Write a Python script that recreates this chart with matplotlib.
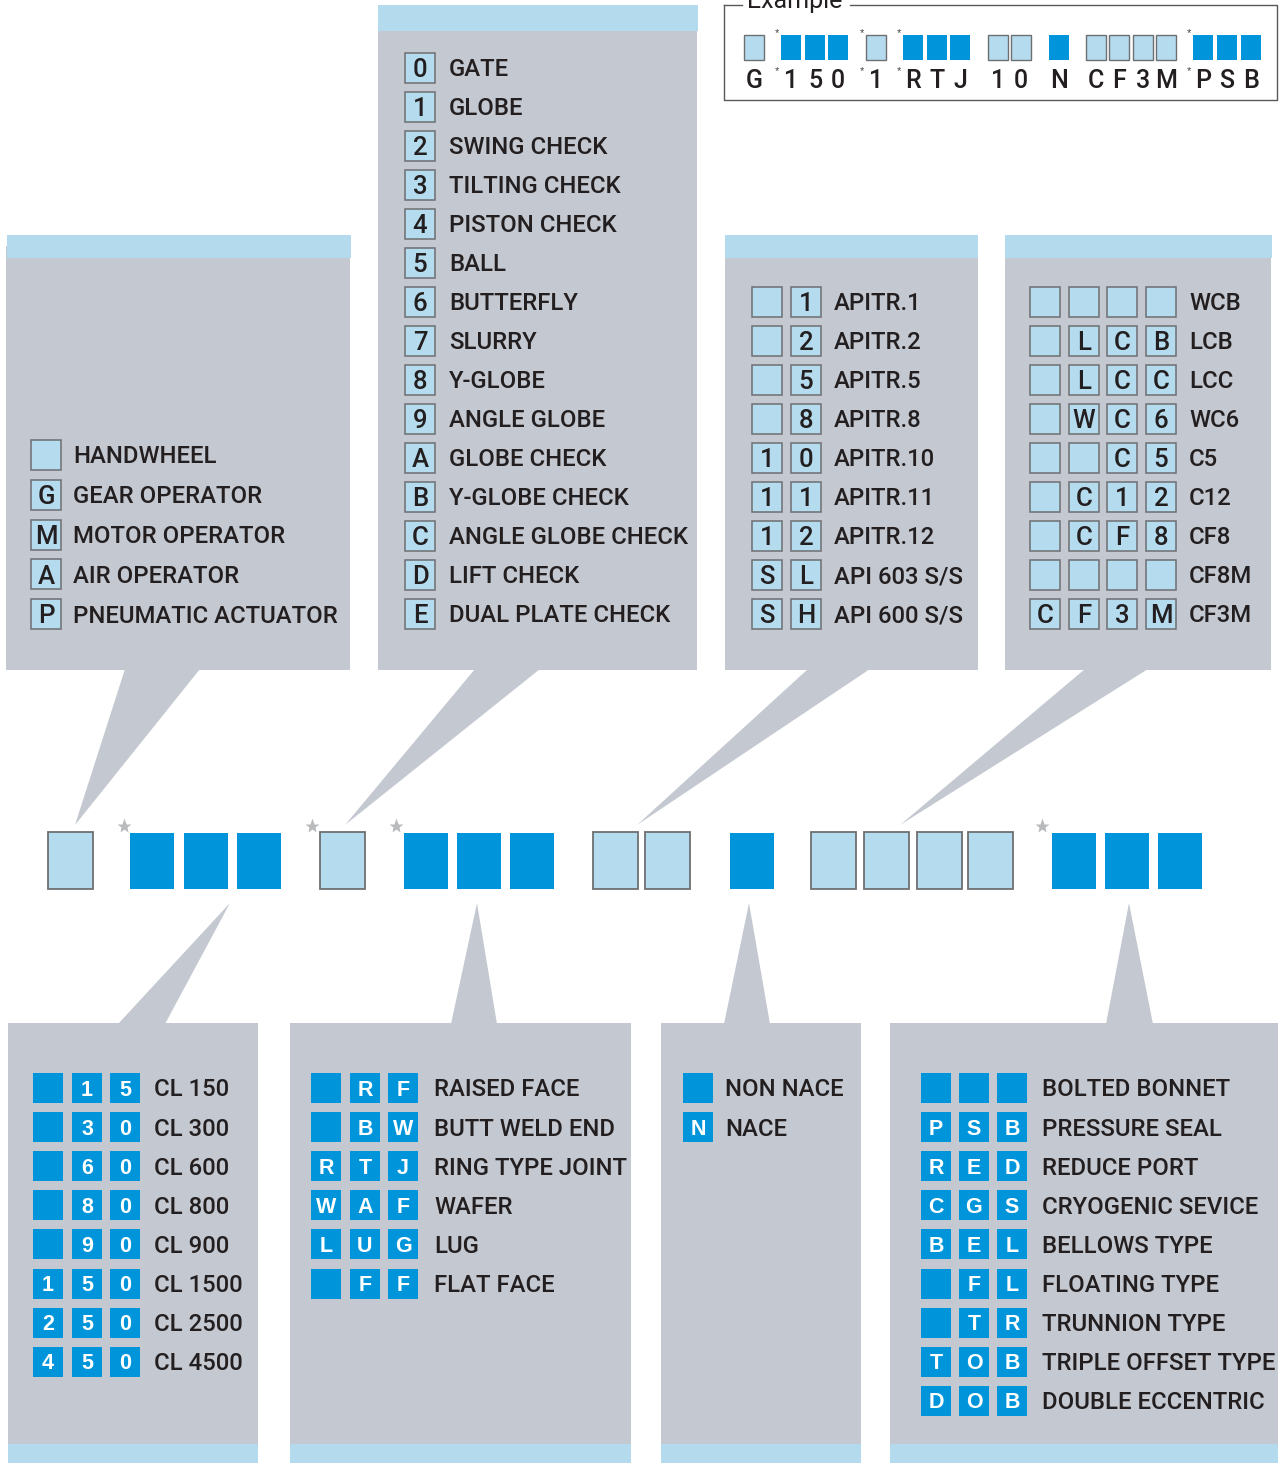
import matplotlib.pyplot as plt
from matplotlib.patches import Rectangle, Polygon

# ---- data ----
operator_codes = ["", "G", "M", "A", "P"]
operator_labels = ["HANDWHEEL", "GEAR OPERATOR", "MOTOR OPERATOR", "AIR OPERATOR", "PNEUMATIC ACTUATOR"]

body_codes = ["0", "1", "2", "3", "4", "5", "6", "7", "8", "9", "A", "B", "C", "D", "E"]
body_labels = ["GATE", "GLOBE", "SWING CHECK", "TILTING CHECK", "PISTON CHECK", "BALL", "BUTTERFLY",
               "SLURRY", "Y-GLOBE", "ANGLE GLOBE", "GLOBE CHECK", "Y-GLOBE CHECK",
               "ANGLE GLOBE CHECK", "LIFT CHECK", "DUAL PLATE CHECK"]

trim_codes = [["", "1"], ["", "2"], ["", "5"], ["", "8"], ["1", "0"], ["1", "1"], ["1", "2"],
              ["S", "L"], ["S", "H"]]
trim_labels = ["APITR.1", "APITR.2", "APITR.5", "APITR.8", "APITR.10", "APITR.11", "APITR.12",
               "API 603 S/S", "API 600 S/S"]

material_codes = [["", "", "", ""], ["", "L", "C", "B"], ["", "L", "C", "C"], ["", "W", "C", "6"],
                  ["", "", "C", "5"], ["", "C", "1", "2"], ["", "C", "F", "8"], ["", "", "", ""],
                  ["C", "F", "3", "M"]]
material_labels = ["WCB", "LCB", "LCC", "WC6", "C5", "C12", "CF8", "CF8M", "CF3M"]

class_codes = [["", "1", "5"], ["", "3", "0"], ["", "6", "0"], ["", "8", "0"], ["", "9", "0"],
               ["1", "5", "0"], ["2", "5", "0"], ["4", "5", "0"]]
class_labels = ["CL 150", "CL 300", "CL 600", "CL 800", "CL 900", "CL 1500", "CL 2500", "CL 4500"]

end_codes = [["", "R", "F"], ["", "B", "W"], ["R", "T", "J"], ["W", "A", "F"], ["L", "U", "G"],
             ["", "F", "F"]]
end_labels = ["RAISED FACE", "BUTT WELD END", "RING TYPE JOINT", "WAFER", "LUG", "FLAT FACE"]

nace_codes = [[""], ["N"]]
nace_labels = ["NON NACE", "NACE"]

bonnet_codes = [["", "", ""], ["P", "S", "B"], ["R", "E", "D"], ["C", "G", "S"], ["B", "E", "L"],
                ["", "F", "L"], ["", "T", "R"], ["T", "O", "B"], ["D", "O", "B"]]
bonnet_labels = ["BOLTED BONNET", "PRESSURE SEAL", "REDUCE PORT", "CRYOGENIC SEVICE", "BELLOWS TYPE",
                 "FLOATING TYPE", "TRUNNION TYPE", "TRIPLE OFFSET TYPE", "DOUBLE ECCENTRIC"]

example_codes = ["G", "1", "5", "0", "1", "R", "T", "J", "1", "0", "N", "C", "F", "3", "M", "P", "S", "B"]
example_title = "Example"

# ---- style ----
GRAY = "#c4c8d0"
STRIP = "#b3dbed"
LIGHT = "#b5dcee"
DARK = "#0095da"
EDGE = "#6d6f72"
INK = "#231f20"
STAR = "#b9babc"
FONT = "Roboto"

fig = plt.figure(figsize=(12.79, 14.63), dpi=100)
ax = fig.add_axes([0, 0, 1, 1])
ax.set_xlim(0, 1279)
ax.set_ylim(1463, 0)
ax.axis("off")


def txt(x, yc, s, size, color=INK, ha="left", weight="medium", family=FONT):
    # put the middle of the capitals at yc
    cap = 0.711 * size * 100 / 72
    ax.text(x, yc + cap / 2, s, fontsize=size, color=color, ha=ha, va="baseline",
            fontweight=weight, family=family)


def light_box(x, y, w, h, lw=1.1):
    ax.add_patch(Rectangle((x, y), w, h, facecolor=LIGHT, edgecolor=EDGE, lw=lw))


def dark_box(x, y, w, h):
    ax.add_patch(Rectangle((x, y), w, h, facecolor=DARK, edgecolor="none"))


def rows(codes, labels, box_x, text_x, y0, dy, dark=False):
    for i, (code, label) in enumerate(zip(codes, labels)):
        yc = y0 + i * dy
        if isinstance(code, str):
            code = [code]
        for bx, c in zip(box_x, code):
            if dark:
                dark_box(bx, yc - 15, 30, 30)
                txt(bx + 15, yc, c, 15.5, color="white", ha="center", weight="bold",
                    family="Liberation Sans")
            else:
                light_box(bx, yc - 15, 30, 30)
                txt(bx + 15, yc, c, 18.5, ha="center")
        txt(text_x, yc, label, 17.2)


# ---- top panels ----
ax.add_patch(Rectangle((6, 246), 344, 424, facecolor=GRAY, lw=0))
ax.add_patch(Rectangle((7, 235), 344, 23, facecolor=STRIP, lw=0))
ax.add_patch(Rectangle((378, 30), 319, 640, facecolor=GRAY, lw=0))
ax.add_patch(Rectangle((378, 5), 320, 26, facecolor=STRIP, lw=0))
ax.add_patch(Rectangle((725, 246), 253, 424, facecolor=GRAY, lw=0))
ax.add_patch(Rectangle((725, 235), 253, 23, facecolor=STRIP, lw=0))
ax.add_patch(Rectangle((1005, 246), 266, 424, facecolor=GRAY, lw=0))
ax.add_patch(Rectangle((1005, 235), 267, 23, facecolor=STRIP, lw=0))

# callouts pointing down to the code row
for bx0, bx1, tip in [(125, 200, 75), (475, 540, 345), (808, 870, 637), (1085, 1148, 900)]:
    ax.add_patch(Polygon([(bx0, 669), (bx1, 669), (tip, 825)], closed=True, facecolor=GRAY, lw=0))

# ---- bottom panels ----
for x0, x1 in [(8, 258), (290, 631), (661, 861), (890, 1278)]:
    ax.add_patch(Rectangle((x0, 1023), x1 - x0, 421, facecolor=GRAY, lw=0))
    ax.add_patch(Rectangle((x0, 1444), x1 - x0, 19, facecolor=STRIP, lw=0))

for bx0, bx1, tip in [(118, 165, 230), (451, 497, 477), (724, 770, 749), (1106, 1153, 1129)]:
    ax.add_patch(Polygon([(bx0, 1024), (bx1, 1024), (tip, 903)], closed=True, facecolor=GRAY, lw=0))

# ---- panel contents ----
rows(operator_codes, operator_labels, [31], 73, 455, 39.8)
rows(body_codes, body_labels, [405], 449, 68, 39.0)
rows(trim_codes, trim_labels, [752, 791], 834, 302, 39.0)
rows(material_codes, material_labels, [1030, 1069, 1107, 1146], 1189, 302, 39.0)
rows(class_codes, class_labels, [33, 72, 110], 154, 1088, 39.1, dark=True)
rows(end_codes, end_labels, [311, 350, 388], 434, 1088, 39.1, dark=True)
rows(nace_codes, nace_labels, [683], 725, 1088, 39.1, dark=True)
rows(bonnet_codes, bonnet_labels, [921, 959, 997], 1042, 1088, 39.1, dark=True)

# ---- code row in the middle ----
mid_groups = [("light", [48], None), ("dark", [130, 184, 237], 124), ("light", [320], 312),
              ("dark", [404, 457, 510], 396), ("light", [593, 645], None), ("dark", [730], None),
              ("light", [811, 864, 917, 968], None), ("dark", [1052, 1105, 1158], 1042)]
for kind, xs, star in mid_groups:
    for x in xs:
        if kind == "light":
            light_box(x, 832, 45, 57, lw=1.3)
        else:
            dark_box(x, 833, 44, 56)
    if star is not None:
        ax.plot(star, 826, marker="*", ms=11, color=STAR, mec="none")

# ---- example box ----
ax.plot([724, 742], [4.5, 4.5], color="#58595b", lw=1)
ax.plot([850, 1277, 1277, 724, 724], [4.5, 4.5, 100, 100, 4.5], color="#58595b", lw=1)
ax.text(795, 8, example_title, fontsize=18, color=INK, ha="center", va="baseline", family=FONT)

ex_groups = [("light", [744], None), ("dark", [781, 805, 828], 777), ("light", [866], 862),
             ("dark", [903, 927, 950], 899), ("light", [988, 1011], None), ("dark", [1049], None),
             ("light", [1086, 1109, 1133, 1156], None), ("dark", [1193, 1217, 1241], 1189)]
k = 0
for kind, xs, star in ex_groups:
    for x in xs:
        if kind == "light":
            light_box(x, 35, 20, 25, lw=1.0)
        else:
            dark_box(x, 35, 20, 25)
        txt(x + 10, 79, example_codes[k], 18, ha="center")
        k += 1
    if star is not None:
        ax.text(star, 36, "*", fontsize=8, color="#444444", ha="center", va="baseline",
                family="Liberation Sans")
        ax.text(star, 74, "*", fontsize=8, color="#444444", ha="center", va="baseline",
                family="Liberation Sans")

fig.savefig("out.png", dpi=100)
